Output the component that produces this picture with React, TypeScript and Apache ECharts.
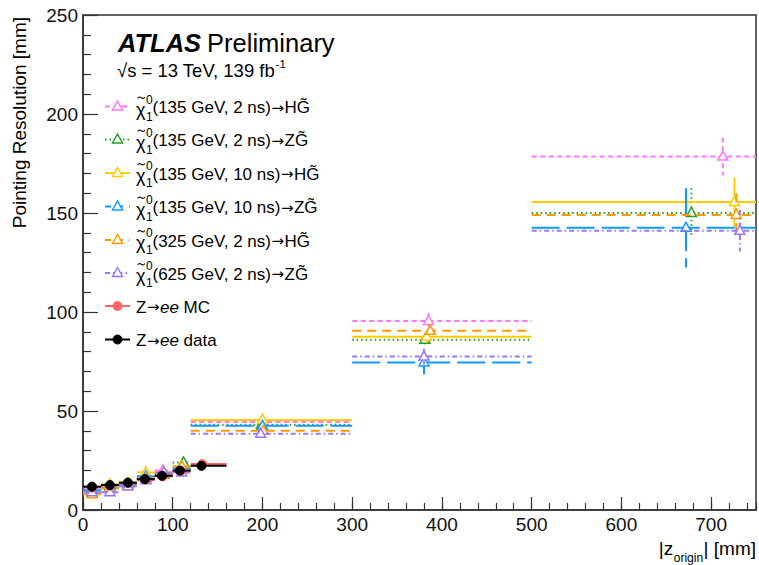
import React, { useEffect, useRef } from "react";
import * as echarts from "echarts";

// ---------- data ----------
const binLow = [0, 20, 40, 60, 80, 100, 120, 300, 500];
const binHigh = [20, 40, 60, 80, 100, 120, 300, 500, 750];

const hg135_2ns_x = [10, 30, 50, 70, 89, 109, 200, 385, 713];
const hg135_2ns_y = [9, 11, 13, 17, 20, 21, 44.5, 95.5, 178.5];
const hg135_2ns_err = [1, 1, 1, 1, 1, 1.5, 2, 4, 9.5];

const zg135_2ns_x = [10, 30, 50, 70, 90, 112, 199, 381, 678];
const zg135_2ns_y = [10, 12, 13.5, 16, 18, 24, 43, 86, 150];
const zg135_2ns_err = [1, 1, 1, 1, 1, 1.5, 2, 3, 12.5];

const hg135_10ns_x = [10, 30, 50, 70, 90, 110, 200, 383, 726];
const hg135_10ns_y = [9, 13, 14, 19, 19, 22, 45.5, 87.5, 155.5];
const hg135_10ns_err = [1, 1, 1, 1, 1, 1.5, 2, 3, 12.5];

const zg135_10ns_x = [10, 30, 50, 70, 90, 110, 200, 380, 672];
const zg135_10ns_y = [10, 11, 13, 17, 18, 21, 42.5, 74.5, 142.5];
const zg135_10ns_err = [1, 1, 1, 1, 1, 1.5, 2, 6, 20];

const hg325_2ns_x = [10, 30, 50, 70, 90, 110, 201, 387, 728];
const hg325_2ns_y = [8, 11, 12, 16, 18, 22, 40, 90.5, 149];
const hg325_2ns_err = [1, 1, 1, 1, 1, 1.5, 2, 3.5, 11];

const zg625_2ns_x = [10, 30, 50, 70, 90, 110, 198, 380, 732];
const zg625_2ns_y = [9, 9, 12, 15, 19, 19, 38.5, 77.5, 141];
const zg625_2ns_err = [1, 1, 1, 1, 1, 1.5, 2, 4, 10.5];

const zBinLow = [0, 20, 40, 60, 80, 100, 120];
const zBinHigh = [20, 40, 60, 80, 100, 120, 160];
const zeeMC_x = [10, 30, 50, 70, 89, 109, 133];
const zeeMC_y = [11.3, 12.3, 13.6, 15.4, 17.0, 19.7, 23.2];
const zeeMC_err = [0.3, 0.3, 0.3, 0.3, 0.3, 0.3, 0.3];
const zeeData_x = [10, 30, 50, 69, 88, 108, 132];
const zeeData_y = [11.8, 12.6, 13.8, 15.6, 17.3, 19.9, 22.3];
const zeeData_err = [0.3, 0.3, 0.3, 0.3, 0.3, 0.3, 0.3];

// legend texts: [production, decay]
const legendMass = ["135 GeV, 2 ns", "135 GeV, 2 ns", "135 GeV, 10 ns", "135 GeV, 10 ns", "325 GeV, 2 ns", "625 GeV, 2 ns"];
const legendDecay = ["HG\u0303", "ZG\u0303", "HG\u0303", "ZG\u0303", "HG\u0303", "ZG\u0303"];
const zeeLabels = ["MC", "data"];

const xTicks = [0, 100, 200, 300, 400, 500, 600, 700];

// ---------- styles ----------
const FONT = '"Liberation Sans", Arial, Helvetica, sans-serif';
const ARROW_FONT = '"DejaVu Sans", sans-serif';

type SeriesDef = {
  color: string;
  dash: number[] | null;
  marker: "tri" | "circle";
  low: number[];
  high: number[];
  x: number[];
  y: number[];
  err: number[];
};

const seriesDefs: SeriesDef[] = [
  { color: "#ff77ff", dash: [5, 3.5], marker: "tri", low: binLow, high: binHigh, x: hg135_2ns_x, y: hg135_2ns_y, err: hg135_2ns_err },
  { color: "#1fa01f", dash: [1.5, 3], marker: "tri", low: binLow, high: binHigh, x: zg135_2ns_x, y: zg135_2ns_y, err: zg135_2ns_err },
  { color: "#ffcc00", dash: null, marker: "tri", low: binLow, high: binHigh, x: hg135_10ns_x, y: hg135_10ns_y, err: hg135_10ns_err },
  { color: "#1199ff", dash: [28, 7], marker: "tri", low: binLow, high: binHigh, x: zg135_10ns_x, y: zg135_10ns_y, err: zg135_10ns_err },
  { color: "#ff9900", dash: [9, 6], marker: "tri", low: binLow, high: binHigh, x: hg325_2ns_x, y: hg325_2ns_y, err: hg325_2ns_err },
  { color: "#9977ff", dash: [5, 3, 1.5, 3], marker: "tri", low: binLow, high: binHigh, x: zg625_2ns_x, y: zg625_2ns_y, err: zg625_2ns_err },
  { color: "#ff6666", dash: null, marker: "circle", low: zBinLow, high: zBinHigh, x: zeeMC_x, y: zeeMC_y, err: zeeMC_err },
  { color: "#000000", dash: null, marker: "circle", low: zBinLow, high: zBinHigh, x: zeeData_x, y: zeeData_y, err: zeeData_err },
];

let measureCtx: CanvasRenderingContext2D | null = null;
function tw(text: string, size: number, weight = "normal", style = "normal", family = FONT) {
  if (!measureCtx) measureCtx = document.createElement("canvas").getContext("2d");
  if (!measureCtx) return text.length * size * 0.55;
  measureCtx.font = `${style} ${weight} ${size}px ${family}`;
  return measureCtx.measureText(text).width;
}

function markerEl(kind: string, cx: number, cy: number, color: string) {
  if (kind === "tri") {
    return {
      type: "polygon",
      shape: { points: [[cx, cy - 5.5], [cx + 5, cy + 3.5], [cx - 5, cy + 3.5]] },
      style: { fill: "#ffffff", stroke: color, lineWidth: 1.5 },
      z2: 10,
    };
  }
  return { type: "circle", shape: { cx, cy, r: 4.5 }, style: { fill: color, stroke: color, lineWidth: 1 }, z2: 10 };
}

function makeRender(def: SeriesDef) {
  return (params: any, api: any) => {
    const x0 = api.value(0), x1 = api.value(1), xm = api.value(2), y = api.value(3), e = api.value(4);
    const pL = api.coord([x0, y]);
    const pR = api.coord([x1, y]);
    const pM = api.coord([xm, y]);
    const pT = api.coord([xm, y + e]);
    const pB = api.coord([xm, y - e]);
    const ls: any = { stroke: def.color, lineWidth: 2, fill: null };
    if (def.dash) ls.lineDash = def.dash;
    return {
      type: "group",
      children: [
        { type: "line", shape: { x1: pL[0], y1: pL[1], x2: pR[0], y2: pR[1] }, style: ls },
        { type: "line", shape: { x1: pT[0], y1: pT[1], x2: pB[0], y2: pB[1] }, style: ls },
        markerEl(def.marker, pM[0], pM[1], def.color),
      ],
    };
  };
}

function txt(text: string, x: number, y: number, size: number, extra: any = {}, elExtra: any = {}) {
  const align = extra.align || "left";
  const va = extra.verticalAlign || "middle";
  return {
    type: "text",
    x,
    y,
    ...elExtra,
    style: {
      text,
      fill: "#000",
      fontSize: size,
      fontFamily: extra.fontFamily || FONT,
      fontWeight: extra.fontWeight || "normal",
      fontStyle: extra.fontStyle || "normal",
      align,
      verticalAlign: va,
      textAlign: align,
      textVerticalAlign: va,
    },
    z: 100,
  };
}

function buildGraphics() {
  const g: any[] = [];
  // ATLAS Preliminary
  g.push(txt("ATLAS", 118, 43, 25.5, { fontWeight: "bold", fontStyle: "italic" }));
  g.push(txt("Preliminary", 118 + tw("ATLAS", 25.5, "bold", "italic") + 6, 43, 25.5));
  const sLine = "\u221As = 13 TeV, 139 fb";
  g.push(txt(sLine, 117, 70, 18.5));
  g.push(txt("-1", 117 + tw(sLine, 18.5) + 0.5, 63.5, 11.5));

  // legend
  const rows = [106.5, 139.5, 173, 206.5, 240, 273, 306, 339.5];
  const LS = 17;
  const ARS = 15;
  seriesDefs.forEach((d, i) => {
    const ry = rows[i];
    const ls: any = { stroke: d.color, lineWidth: 2 };
    if (d.dash) ls.lineDash = d.dash.map((v) => Math.min(v, 6));
    g.push({ type: "line", shape: { x1: 105, y1: ry, x2: 130, y2: ry }, style: ls, z: 100 });
    const m: any = markerEl(d.marker, 117.5, ry, d.color);
    m.z = 101;
    g.push(m);
    if (d.marker === "tri") {
      const chi = "\u03C7";
      g.push(txt(chi, 136, ry + 3, 18));
      const cw = tw(chi, 18);
      const cx = 136 + cw / 2 + 0.5;
      // tilde over chi
      g.push({
        type: "bezierCurve",
        shape: { x1: cx - 3.5, y1: ry - 8, x2: cx + 3.5, y2: ry - 9.5, cpx1: cx - 1.5, cpy1: ry - 12.5, cpx2: cx + 1.5, cpy2: ry - 5 },
        style: { stroke: "#000", lineWidth: 1.1, fill: null },
        z: 100,
      });
      g.push(txt("0", 136 + cw + 0.5, ry - 7, 12));
      g.push(txt("1", 136 + cw + 0.5, ry + 10, 12));
      const head = "(" + legendMass[i] + ")";
      let x = 152.5;
      g.push(txt(head, x, ry + 1, LS));
      x += tw(head, LS) + 0.5;
      g.push(txt("\u2192", x, ry + 1, ARS, { fontFamily: ARROW_FONT }));
      x += tw("\u2192", ARS, "normal", "normal", ARROW_FONT) + 0.5;
      g.push(txt(legendDecay[i], x, ry + 1, LS));
    } else {
      const lab = zeeLabels[i - 6];
      let x = 136;
      g.push(txt("Z", x, ry + 1, LS));
      x += tw("Z", LS) + 0.5;
      g.push(txt("\u2192", x, ry + 1, ARS, { fontFamily: ARROW_FONT }));
      x += tw("\u2192", ARS, "normal", "normal", ARROW_FONT) + 0.5;
      g.push(txt("ee", x, ry + 1, LS, { fontStyle: "italic" }));
      x += tw("ee", LS, "normal", "italic") + tw(" ", LS);
      g.push(txt(lab, x, ry + 1, LS));
    }
  });

  // y axis title
  g.push(txt("Pointing Resolution [mm]", 19, 17, 19, { align: "right", verticalAlign: "middle" }, { rotation: Math.PI / 2 }));

  // x axis title: |z_origin| [mm], right aligned at 756
  const tail = "| [mm]";
  const wTail = tw(tail, 19);
  const wSub = tw("origin", 12);
  g.push(txt(tail, 756, 548, 19, { align: "right" }));
  g.push(txt("origin", 756 - wTail - 0.5, 558, 12, { align: "right" }));
  g.push(txt("|z", 756 - wTail - wSub - 1, 548, 19, { align: "right" }));
  return g;
}

export default function App() {
  const ref = useRef<HTMLDivElement>(null);
  useEffect(() => {
    if (!ref.current) return;
    const chart = echarts.init(ref.current, null, { renderer: "svg" });
    const axisColor = "#333";
    const series = seriesDefs.map((d, si) => ({
      type: "custom",
      xAxisIndex: 0,
      yAxisIndex: 0,
      renderItem: makeRender(d),
      encode: { x: [0, 1, 2], y: 3 },
      data: d.x.map((xv, i) => [d.low[i], d.high[i], xv, d.y[i], d.err[i]]),
      z: 2 + si,
      clip: true,
      silent: true,
    }));
    chart.setOption({
      animation: false,
      backgroundColor: "#fff",
      textStyle: { fontFamily: FONT },
      grid: { left: 83, right: 3, top: 15, bottom: 55, show: true, borderColor: axisColor, borderWidth: 1.5, backgroundColor: "transparent" },
      xAxis: [
        {
          type: "value",
          min: 0,
          max: 750,
          interval: 100,
          position: "bottom",
          axisLine: { show: true, lineStyle: { color: axisColor, width: 1.5 } },
          axisTick: { show: true, inside: true, length: 13, lineStyle: { color: axisColor, width: 1.2 } },
          minorTick: { show: false },
          splitLine: { show: false },
          axisLabel: {
            show: true,
            margin: 5,
            fontSize: 19,
            color: "#111",
            fontFamily: FONT,
            showMinLabel: true,
            showMaxLabel: false,
            formatter: (v: number) => (xTicks.indexOf(v) >= 0 ? String(v) : ""),
          },
        },
        {
          type: "value",
          min: 0,
          max: 750,
          interval: 20,
          position: "bottom",
          axisLine: { show: false },
          axisTick: { show: true, inside: true, length: 7, lineStyle: { color: axisColor, width: 1.2 } },
          splitLine: { show: false },
          axisLabel: { show: false },
        },
      ],
      yAxis: {
        type: "value",
        min: 0,
        max: 250,
        interval: 50,
        axisLine: { show: true, lineStyle: { color: axisColor, width: 1.5 } },
        axisTick: { show: true, inside: true, length: 15, lineStyle: { color: axisColor, width: 1.2 } },
        minorTick: { show: true, splitNumber: 5, length: 8, lineStyle: { color: axisColor, width: 1.2 } },
        splitLine: { show: false },
        axisLabel: { show: true, margin: 5, fontSize: 19, color: "#111", fontFamily: FONT, showMinLabel: true },
      },
      series,
      graphic: buildGraphics(),
    });
    return () => chart.dispose();
  }, []);
  return <div ref={ref} style={{ position: "fixed", left: 0, top: 0, width: 759, height: 565, background: "#fff" }} />;
}
